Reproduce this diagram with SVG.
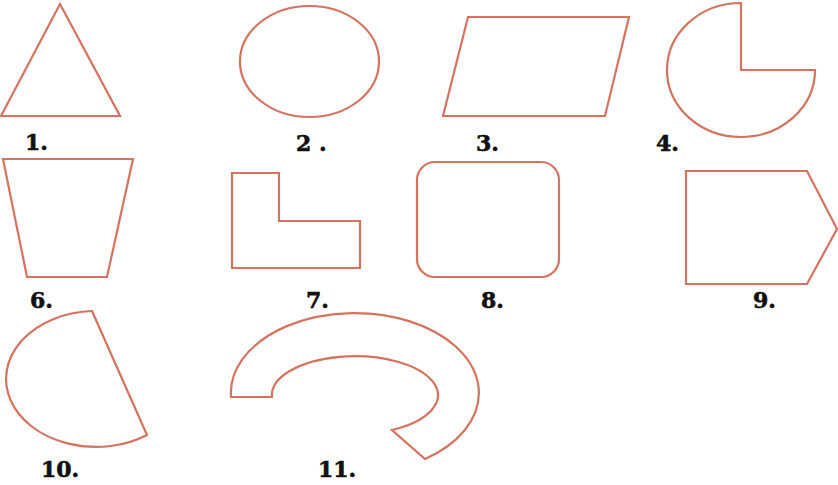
<svg xmlns="http://www.w3.org/2000/svg" width="838" height="485" viewBox="0 0 838 485">
<style>
.s{fill:none;stroke:#d47360;stroke-width:2.2;stroke-linejoin:miter}
.l{font-family:"DejaVu Serif","Liberation Serif",serif;font-weight:bold;font-size:22px;fill:#111;stroke:#111;stroke-width:0.6}
</style>
<rect width="838" height="485" fill="#fff"/>
<g id="shape1"><path class="s" d="M60,4 L120,116 L1,116 Z"/><text class="l" x="25" y="150">1.</text></g>
<g id="shape2"><ellipse class="s" cx="309.5" cy="61.5" rx="69.5" ry="55.5"/><text class="l" x="296" y="151">2 .</text></g>
<g id="shape3"><path class="s" d="M468,17 L629,17 L605,116 L443,116 Z"/><text class="l" x="476" y="151">3.</text></g>
<g id="shape4"><path class="s" d="M741,70 L741,3 A74,67 0 1 0 815,70 Z"/><text class="l" x="656" y="151">4.</text></g>
<g id="shape6"><path class="s" d="M3,159 L133,159 L107,277 L27,277 Z"/><text class="l" x="30" y="308">6.</text></g>
<g id="shape7"><path class="s" d="M232,173 L279,173 L279,221 L360,221 L360,268 L232,268 Z"/><text class="l" x="306" y="308">7.</text></g>
<g id="shape8"><rect class="s" x="417" y="162" width="142" height="115" rx="18"/><text class="l" x="481" y="308">8.</text></g>
<g id="shape9"><path class="s" d="M686,171 L807,171 L837,229 L807,284 L686,284 Z"/><text class="l" x="753" y="308">9.</text></g>
<g id="shape10"><path class="s" d="M92,311 L147,435 A90,68 0 1 1 92,311 Z"/><text class="l" x="41" y="477">10.</text></g>
<g id="shape11"><path class="s" d="M231,397 A124,80 0 1 1 425,459 L392,430 A83,39 0 1 0 272,397 Z"/><text class="l" x="318" y="477">11.</text></g>
</svg>
